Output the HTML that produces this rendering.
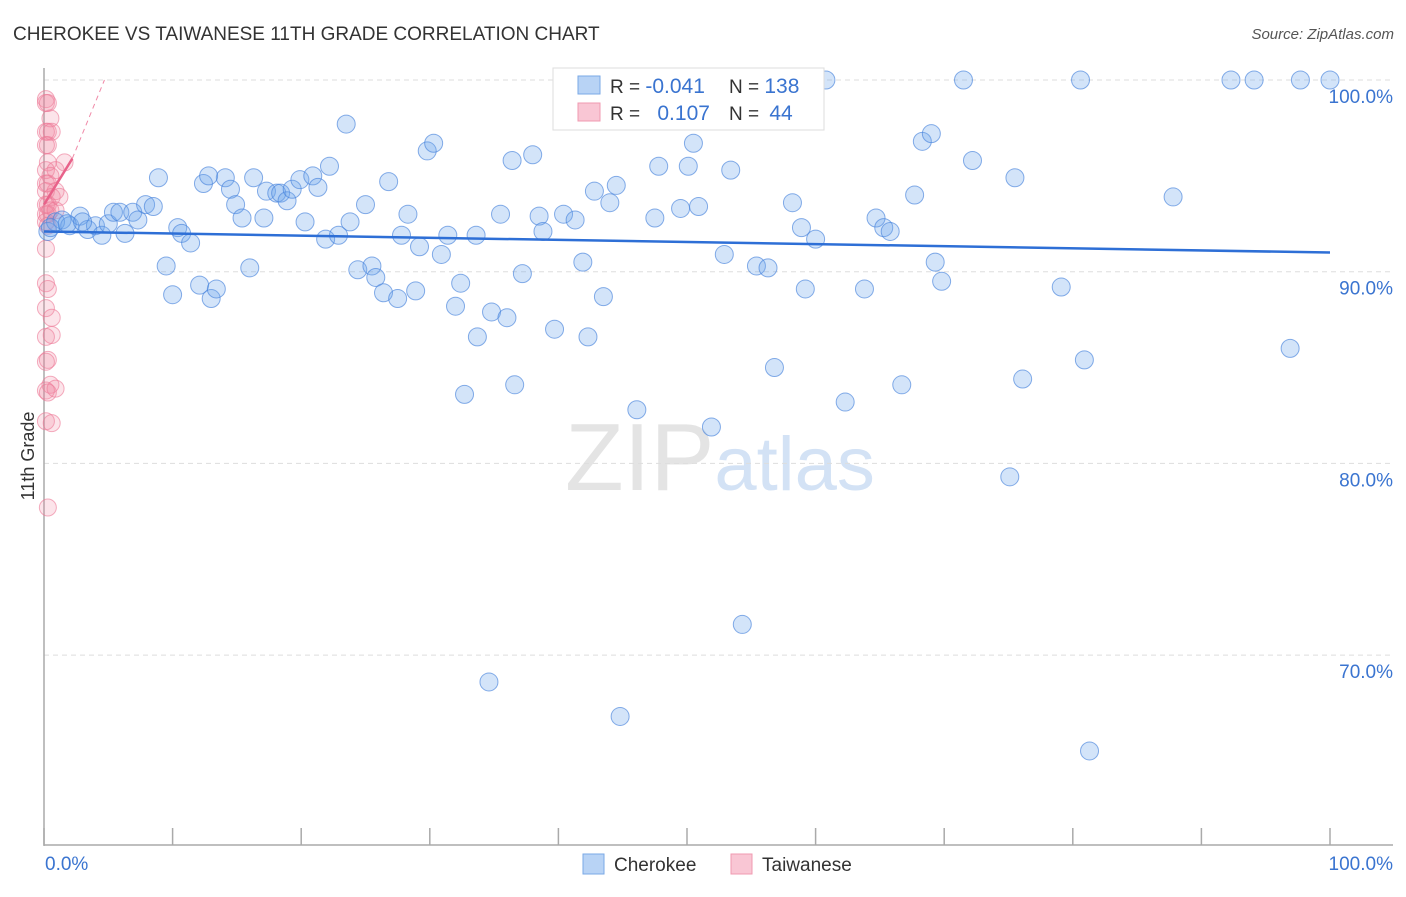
<!DOCTYPE html>
<html><head><meta charset="utf-8"><style>
body{margin:0;background:#fff;font-family:"Liberation Sans",sans-serif;}
svg text{font-family:"Liberation Sans",sans-serif;}
</style></head><body>
<svg id="chart" width="1406" height="892" viewBox="0 0 1406 892" xmlns="http://www.w3.org/2000/svg">
<text x="13" y="40" font-size="19" fill="#333">CHEROKEE VS TAIWANESE 11TH GRADE CORRELATION CHART</text>
<text x="1394" y="39" font-size="15" fill="#555" text-anchor="end" font-style="italic">Source: ZipAtlas.com</text>
<text x="720" y="490" font-size="96" fill="#e4e4e4" text-anchor="middle" font-family="Liberation Serif">ZIP<tspan fill="#d3e2f5" font-family="Liberation Sans" font-size="76">atlas</tspan></text>
<g id="grid"></g>
<g id="axes"></g>
<g id="pts"></g>
<g id="lines"></g>
<text transform="translate(34,456) rotate(-90)" font-size="18" fill="#333" text-anchor="middle">11th Grade</text>
<g>
<rect x="553" y="68" width="271" height="62" fill="#fff" stroke="#ddd"/>
<rect x="578" y="76" width="22" height="18" fill="#b8d3f5" stroke="#7aa8e6"/>
<rect x="578" y="103" width="22" height="18" fill="#f9c6d4" stroke="#f09ab0"/>
<text x="610" y="93" font-size="19" fill="#333">R = <tspan fill="#3a74d0" font-size="21">-0.041</tspan></text>
<text x="729" y="93" font-size="19" fill="#333">N = <tspan fill="#3a74d0" font-size="21">138</tspan></text>
<text x="610" y="120" font-size="19" fill="#333">R = <tspan fill="#3a74d0" font-size="21" dx="12">0.107</tspan></text>
<text x="729" y="120" font-size="19" fill="#333">N = <tspan fill="#3a74d0" font-size="21" dx="5">44</tspan></text>
</g>
<g>
<rect x="583" y="854" width="21" height="20" fill="#b8d3f5" stroke="#7aa8e6"/>
<text x="614" y="871" font-size="19" fill="#333">Cherokee</text>
<rect x="731" y="854" width="21" height="20" fill="#f9c6d4" stroke="#f09ab0"/>
<text x="762" y="871" font-size="19" fill="#333">Taiwanese</text>
</g>
</svg>
<script>
const yTicks=[100,90,80,70];
const yTickLabels=["100.0%","90.0%","80.0%","70.0%"];
const xTickCount=10;
const xLabels=["0.0%","100.0%"];
const blueX=[0.3,0.9,1.4,2.0,2.8,3.4,4.0,4.5,5.0,5.4,5.9,6.3,6.9,7.3,7.9,8.5,8.9,9.5,10.0,10.4,10.7,11.4,12.1,12.4,13.0,13.4,14.1,14.5,14.9,15.4,16.0,16.3,17.1,17.3,18.1,18.4,18.9,19.3,19.9,20.3,20.9,21.3,21.9,22.2,22.9,23.5,23.8,24.4,25.0,25.5,25.8,26.4,26.8,27.5,27.8,28.3,28.9,29.2,29.8,30.3,30.9,31.4,32.0,32.4,32.7,33.6,33.7,34.6,34.8,35.5,36.0,36.4,36.6,37.2,38.0,38.5,38.8,39.7,40.4,41.3,41.9,42.3,42.8,43.5,44.0,44.5,44.8,46.1,46.8,47.5,47.8,49.1,49.5,50.1,50.5,50.9,51.9,52.4,52.9,53.4,53.7,54.3,55.4,56.3,56.8,58.2,58.9,59.2,60.0,60.8,62.3,63.8,64.7,65.3,65.8,66.7,67.7,68.3,69.0,69.3,69.8,71.5,72.2,75.1,75.5,76.1,79.1,80.6,80.9,81.3,87.8,92.3,94.1,96.9,97.7,100,0.5,1.8,3.0,12.8];
const blueY=[92.1,92.6,92.7,92.4,92.9,92.2,92.4,91.9,92.5,93.1,93.1,92.0,93.1,92.7,93.5,93.4,94.9,90.3,88.8,92.3,92.0,91.5,89.3,94.6,88.6,89.1,94.9,94.3,93.5,92.8,90.2,94.9,92.8,94.2,94.1,94.1,93.7,94.3,94.8,92.6,95.0,94.4,91.7,95.5,91.9,97.7,92.6,90.1,93.5,90.3,89.7,88.9,94.7,88.6,91.9,93.0,89.0,91.3,96.3,96.7,90.9,91.9,88.2,89.4,83.6,91.9,86.6,68.6,87.9,93.0,87.6,95.8,84.1,89.9,96.1,92.9,92.1,87.0,93.0,92.7,90.5,86.6,94.2,88.7,93.6,94.5,66.8,82.8,100,92.8,95.5,100,93.3,95.5,96.7,93.4,81.9,100,90.9,95.3,100,71.6,90.3,90.2,85.0,93.6,92.3,89.1,91.7,100,83.2,89.1,92.8,92.3,92.1,84.1,94.0,96.8,97.2,90.5,89.5,100,95.8,79.3,94.9,84.4,89.2,100,85.4,65.0,93.9,100,100,86.0,100,100,92.3,92.5,92.6,95.0];
const pinkX=[0.15,0.3,0.15,0.5,0.3,0.15,0.6,0.3,0.15,0.9,0.3,0.15,1.6,0.5,0.15,0.3,0.9,0.15,0.6,0.3,1.2,0.15,0.5,0.3,0.15,0.15,0.3,0.15,0.9,0.15,0.3,0.15,0.6,0.6,0.15,0.3,0.15,0.5,0.15,0.3,0.9,0.15,0.6,0.3];
const pinkY=[99.0,98.8,98.8,98.0,97.3,97.3,97.3,96.6,96.6,95.3,95.7,95.3,95.7,95.0,94.6,94.6,94.2,94.2,93.9,93.5,93.9,93.5,93.2,93.0,93.0,92.6,92.4,91.2,93.2,89.4,89.1,88.1,87.6,86.7,86.6,85.4,85.3,84.1,83.8,83.7,83.9,82.2,82.1,77.7];
const blueTrend=[92.1,91.0];
const pinkTrend={x0:0,y0:93.5,x1:2.2,y1:95.9,x2:4.7,y2:100};
const X0=44,X1=1330,Yt=80,Ypx10=191.7;
const xs=v=>X0+(X1-X0)*v/100;
const ys=v=>Yt+(100-v)*Ypx10/10;
const NS="http://www.w3.org/2000/svg";
function mk(tag,attrs,parent){const e=document.createElementNS(NS,tag);for(const k in attrs)e.setAttribute(k,attrs[k]);parent.appendChild(e);return e;}
const grid=document.getElementById('grid'),axes=document.getElementById('axes'),pts=document.getElementById('pts'),lines=document.getElementById('lines');
yTicks.forEach((t,i)=>{
 const l=mk('line',{x1:X0,x2:1393,y1:ys(t),y2:ys(t),stroke:'#ddd','stroke-dasharray':'5,4'},grid);
 
 
 const tx=mk('text',{x:1393,y:ys(t)+23,'font-size':19,fill:'#3a74d0','text-anchor':'end'},axes);
 tx.textContent=yTickLabels[i];
 
 
});
let a=mk('line',{x1:X0,x2:X0,y1:68,y2:846,stroke:'#aaa','stroke-width':1.5},axes);


a=mk('line',{x1:X0,x2:1393,y1:845,y2:845,stroke:'#aaa','stroke-width':1.5},axes);


for(let i=0;i<=xTickCount;i++){
 const x=xs(i*100/xTickCount);
 const t=mk('line',{x1:x,x2:x,y1:828,y2:845,stroke:'#aaa','stroke-width':1.5},axes);
 
 
}
let lt=mk('text',{x:45,y:870,'font-size':19,fill:'#3a74d0'},axes);lt.textContent=xLabels[0];


lt=mk('text',{x:1393,y:870,'font-size':19,fill:'#3a74d0','text-anchor':'end'},axes);lt.textContent=xLabels[1];


pinkX.forEach((v,i)=>{
 const c=mk('circle',{cx:xs(v),cy:ys(pinkY[i]),r:8.5,fill:'rgba(240,130,160,0.22)',stroke:'rgba(236,120,150,0.6)','stroke-width':1},pts);
 
 
});
blueX.forEach((v,i)=>{
 const c=mk('circle',{cx:xs(v),cy:ys(blueY[i]),r:9,fill:'rgba(110,165,235,0.3)',stroke:'rgba(70,130,220,0.65)','stroke-width':1},pts);
 
 
});
let tl=mk('line',{x1:xs(0),y1:ys(blueTrend[0]),x2:xs(100),y2:ys(blueTrend[1]),stroke:'#2e6fd6','stroke-width':2.5},lines);


tl=mk('line',{x1:xs(pinkTrend.x1),y1:ys(pinkTrend.y1),x2:xs(pinkTrend.x2),y2:ys(pinkTrend.y2),stroke:'#f08aa8','stroke-width':1,'stroke-dasharray':'5,4'},lines);


tl=mk('line',{x1:xs(pinkTrend.x0),y1:ys(pinkTrend.y0),x2:xs(pinkTrend.x1),y2:ys(pinkTrend.y1),stroke:'#e8628a','stroke-width':2.5},lines);


</script>
</body></html>
